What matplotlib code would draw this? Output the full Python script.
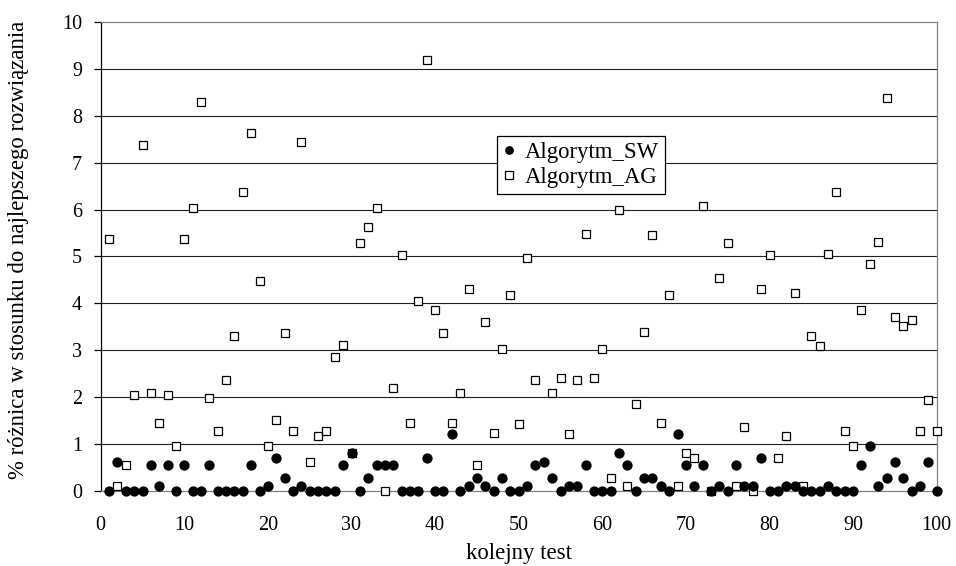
import numpy as np
import matplotlib
matplotlib.use("Agg")
import matplotlib.pyplot as plt

plt.rcParams['font.family'] = ['Liberation Serif', 'DejaVu Serif']

# numer testu
test = np.arange(1, 101)

# % roznica - Algorytm_SW
sw = [0, 0.63, 0, 0, 0, 0.55, 0.11, 0.55, 0, 0.55,
      0, 0, 0.55, 0, 0, 0, 0, 0.55, 0, 0.11,
      0.71, 0.28, 0, 0.11, 0, 0, 0, 0, 0.55, 0.81,
      0, 0.28, 0.55, 0.55, 0.55, 0, 0, 0, 0.71, 0,
      0, 1.21, 0, 0.11, 0.28, 0.11, 0, 0.28, 0, 0,
      0.11, 0.55, 0.63, 0.28, 0, 0.11, 0.11, 0.55, 0, 0,
      0, 0.81, 0.55, 0, 0.28, 0.28, 0.11, 0, 1.21, 0.55,
      0.11, 0.55, 0, 0.11, 0, 0.55, 0.11, 0.11, 0.71, 0,
      0, 0.11, 0.11, 0, 0, 0, 0.11, 0, 0, 0,
      0.55, 0.96, 0.11, 0.28, 0.63, 0.28, 0, 0.11, 0.63, 0]

# % roznica - Algorytm_AG (test 53 niewidoczny na wykresie)
ag = [5.38, 0.11, 0.55, 2.06, 7.37, 2.10, 1.45, 2.06, 0.96, 5.38,
      6.03, 8.30, 1.99, 1.28, 2.37, 3.30, 6.37, 7.64, 4.47, 0.96,
      1.51, 3.38, 1.28, 7.43, 0.62, 1.18, 1.28, 2.86, 3.12, 0.81,
      5.28, 5.62, 6.03, 0, 2.20, 5.03, 1.45, 4.06, 9.18, 3.86,
      3.38, 1.45, 2.10, 4.30, 0.55, 3.60, 1.24, 3.02, 4.19, 1.43,
      4.96, 2.37, np.nan, 2.10, 2.42, 1.21, 2.37, 5.47, 2.42, 3.03,
      0.28, 5.99, 0.11, 1.86, 3.39, 5.46, 1.45, 4.19, 0.11, 0.81,
      0.71, 6.08, 0, 4.54, 5.28, 0.11, 1.36, 0, 4.30, 5.03,
      0.71, 1.18, 4.23, 0.11, 3.30, 3.10, 5.06, 6.37, 1.28, 0.96,
      3.87, 4.84, 5.30, 8.38, 3.72, 3.52, 3.64, 1.28, 1.94, 1.28]

W, H = 956, 566
fig = plt.figure(figsize=(W/100, H/100), dpi=100)
ax = fig.add_axes([100.7/W, 1-491.3/H, 836.0/W, 469.6/H])

# siatka pozioma
for yv in range(1, 10):
    ax.axhline(yv, color='#202020', lw=0.8, zorder=1)

ax.plot(test, ag, ls='none', marker='s', ms=6.4, mfc='white', mec='black',
        mew=0.9, label='Algorytm_AG', zorder=3, clip_on=False)
ax.plot(test, sw, ls='none', marker='o', ms=7.4, mfc='black', mec='black',
        mew=0, label='Algorytm_SW', zorder=4, clip_on=False)

ax.set_xlim(0, 100)
ax.set_ylim(0, 10)
ax.set_xticks(range(0, 101, 10))
ax.set_yticks(range(0, 11))
ax.tick_params(axis='x', length=0, pad=18, labelsize=14.5)
ax.tick_params(axis='y', direction='out', length=5.3, width=0.9, pad=8.2,
               labelsize=14.5, color='black')

ax.spines['left'].set_color('black')
ax.spines['left'].set_linewidth(0.9)
for s in ['top', 'right', 'bottom']:
    ax.spines[s].set_color('#808080')
    ax.spines[s].set_linewidth(0.9)

h, l = ax.get_legend_handles_labels()
leg = ax.legend(h[::-1], l[::-1], loc='upper left',
                bbox_to_anchor=(496.7/W, 1-136/H), bbox_transform=fig.transFigure,
                borderaxespad=0, fontsize=16.4, frameon=True, fancybox=False,
                framealpha=1, edgecolor='black', handlelength=0.6,
                handletextpad=0.4, borderpad=0.25, labelspacing=0.2,
                markerscale=0.85)
leg.get_frame().set_linewidth(0.9)
leg.set_zorder(10)

fig.text(19/W, 1-250/H, '% różnica w stosunku do najlepszego rozwiązania',
         rotation=90, ha='center', va='center', fontsize=16.4)
fig.text(519/W, 1.5/H, 'kolejny test', ha='center', va='bottom', fontsize=16.4)

fig.savefig('out.png', dpi=100)
